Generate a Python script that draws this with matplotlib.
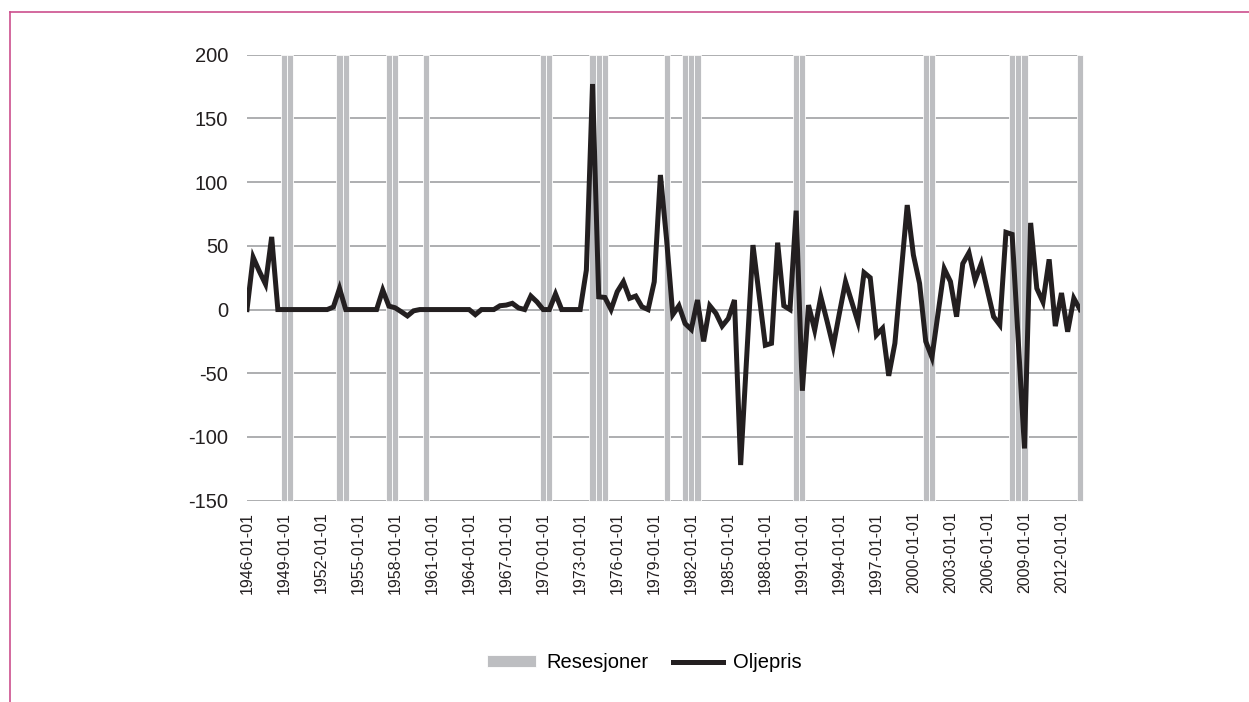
import matplotlib
matplotlib.use("Agg")
import matplotlib.pyplot as plt
from matplotlib.lines import Line2D
import numpy as np

plt.rcParams["font.family"] = ["Liberation Sans", "DejaVu Sans"]
plt.rcParams["axes.unicode_minus"] = False

# semiannual periods, 1946H1 .. 2013H2
periods = [f"{y}-{m}-01" for y in range(1946, 2014) for m in ("01", "07")]

# oil price change
oljepris = [
    0, 41, 30, 20, 57, 0, 0, 0, 0, 0,
    0, 0, 0, 0, 2, 16.6, 0, 0, 0, 0,
    0, 0, 15.3, 2.7, 1.4, -1.7, -5, -1, 0, 0,
    0, 0, 0, 0, 0, 0, 0, -4, 0, 0,
    0, 3, 3.5, 4.9, 1.3, 0, 10.6, 6, 0, 0,
    12.2, 0, 0, 0, 0, 31, 177, 10, 9.5, 0,
    14, 21.8, 8.8, 10.6, 2.2, 0, 21.8, 105.6, 55, -4,
    3, -11, -15.6, 7.5, -25, 3, -3, -13, -7, 7.5,
    -122, -36, 50.6, 11, -28, -26.5, 52.5, 3, 0, 77.6,
    -63.7, 3.5, -16, 10, -9, -29, -3, 21.8, 6, -9.6,
    29, 25, -20, -14.8, -52, -26.5, 27.7, 82, 42.8, 20.5,
    -25, -37.5, -3, 32, 22, -5.6, 36, 44.6, 23, 36,
    15, -5.6, -12, 60.6, 59, -25, -109, 68, 16.6, 6,
    39.4, -13, 13, -17.4, 8.8, 0,
]

# recession half-years (first day of period)
resesjoner = [
    "1949-01-01", "1949-07-01", "1953-07-01", "1954-01-01",
    "1957-07-01", "1958-01-01", "1960-07-01", "1970-01-01",
    "1970-07-01", "1974-01-01", "1974-07-01", "1975-01-01",
    "1980-01-01", "1981-07-01", "1982-01-01", "1982-07-01",
    "1990-07-01", "1991-01-01", "2001-01-01", "2001-07-01",
    "2008-01-01", "2008-07-01", "2009-01-01", "2013-07-01",
]

y_ticks = [-150, -100, -50, 0, 50, 100, 150, 200]

W, H = 1249, 702
fig = plt.figure(figsize=(W / 100, H / 100), dpi=100)
ax = fig.add_axes([247 / W, 1 - 500.7 / H, (1080 - 247) / W, (500.7 - 54.7) / H])

x = np.arange(len(periods))
rec_idx = [periods.index(p) for p in resesjoner]
bars = ax.bar(rec_idx, [350] * len(rec_idx), bottom=-150, width=1.0,
              color="#BDBEC1", edgecolor="white", linewidth=0.6, zorder=2,
              clip_on=False, label="Resesjoner")
line, = ax.plot(x, oljepris, color="#231F20", lw=3.6, solid_joinstyle="miter",
                zorder=3, label="Oljepris")

ax.set_xlim(0, len(periods) - 1)
ax.set_ylim(-150, 200)
ax.set_yticks(y_ticks)
ax.set_yticklabels([str(v) for v in y_ticks])
ax.set_xticks(x[::6])
ax.set_xticklabels(periods[::6], rotation=90)
ax.yaxis.grid(True, color="#A7A8AA", lw=1.3, zorder=1)
ax.set_axisbelow(True)
for s in ax.spines.values():
    s.set_visible(False)
ax.tick_params(axis="y", length=0, pad=13.5, labelsize=14.5, labelcolor="#231F20")
ax.tick_params(axis="x", length=0, pad=8, labelsize=11.5, labelcolor="#231F20")

fig.legend([bars, line], ["Resesjoner", "Oljepris"], loc="center",
           bbox_to_anchor=(644 / W, 1 - 663 / H), ncol=2,
           frameon=False, fontsize=14.5, handlelength=2.45, handleheight=0.55,
           handletextpad=0.5, columnspacing=1.25)

pink = "#CC4F8D"
fig.add_artist(Line2D([9.5 / W, 9.5 / W], [0, 1 - 12 / H], color=pink, lw=1.2))
fig.add_artist(Line2D([9.5 / W, 1], [1 - 12 / H, 1 - 12 / H], color=pink, lw=1.2))

fig.savefig("out.png", dpi=100)
